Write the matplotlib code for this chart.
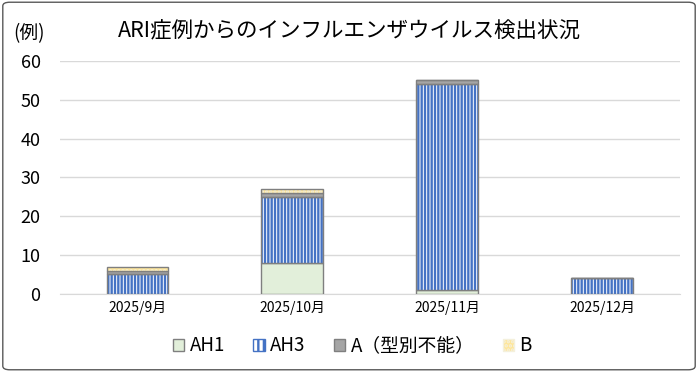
import matplotlib
matplotlib.use('Agg')
import matplotlib.pyplot as plt
from matplotlib.patches import Patch, FancyBboxPatch
import numpy as np

plt.rcParams['font.family'] = ['Noto Sans CJK JP', 'DejaVu Sans']
plt.rcParams['hatch.linewidth'] = 1.7

# data
months = ['2025/9月', '2025/10月', '2025/11月', '2025/12月']
ah1 = [0, 8, 1, 0]
ah3 = [5, 17, 53, 4]
a_untyped = [1, 1, 1, 0]
b = [1, 1, 0, 0]
yticks = [0, 10, 20, 30, 40, 50, 60]

edge = '#7f7f7f'
blue = '#4472c4'

fig = plt.figure(figsize=(6.98, 3.72), dpi=100)
ax = fig.add_axes([0.086, 0.21, 0.888, 0.626])

x = np.arange(len(months))
w = 0.4
bottom = np.zeros(len(months))

# AH1
ax.bar(x, ah1, w, bottom=bottom, color='#e2efda', edgecolor=edge, linewidth=1, zorder=3)
bottom += ah1
# AH3: white with vertical blue stripes, gray outline on top
ax.bar(x, ah3, w, bottom=bottom, color='white', edgecolor=blue, hatch='|||||', linewidth=0, zorder=3)
ax.bar(x, ah3, w, bottom=bottom, fill=False, edgecolor=edge, linewidth=1, zorder=4)
bottom += ah3
# A (untyped)
ax.bar(x, a_untyped, w, bottom=bottom, color='#a5a5a5', edgecolor=edge, linewidth=1, zorder=3)
bottom += a_untyped
# B: light yellow with dots
ax.bar(x, b, w, bottom=bottom, color='#ffe699', edgecolor='#f4f0dc', hatch='....', linewidth=0, zorder=3)
ax.bar(x, b, w, bottom=bottom, fill=False, edgecolor=edge, linewidth=1, zorder=4)

ax.set_xlim(-0.5, 3.5)
ax.set_ylim(0, 60)
ax.set_yticks(yticks)
ax.set_xticks(x)
ax.set_xticklabels(months, fontsize=10)
ax.tick_params(axis='y', labelsize=13, length=0, pad=14)
ax.tick_params(axis='x', length=0, pad=5)
ax.yaxis.grid(True, color='#d9d9d9', linewidth=1, zorder=0)
ax.set_axisbelow(True)
for s in ['top', 'right', 'left']:
    ax.spines[s].set_visible(False)
ax.spines['bottom'].set_color('#d9d9d9')

fig.text(0.5, 0.915, 'ARI症例からのインフルエンザウイルス検出状況', ha='center', va='center', fontsize=15.5)
fig.text(0.042, 0.91, '(例)', ha='center', va='center', fontsize=13.5)

handles = [
    Patch(facecolor='#e2efda', edgecolor=edge, label='AH1'),
    Patch(facecolor='white', edgecolor=blue, hatch='|||', label='AH3'),
    Patch(facecolor='#a5a5a5', edgecolor=edge, label='A（型別不能）'),
    Patch(facecolor='#ffe699', edgecolor='#f4f0dc', hatch='....', label='B'),
]
fig.legend(handles=handles, loc='center', bbox_to_anchor=(0.505, 0.07), ncol=4, frameon=False,
           fontsize=13.5, handlelength=0.6, handleheight=0.6, handletextpad=0.3, columnspacing=1.5)

border = FancyBboxPatch((0.004, 0.006), 0.992, 0.988, boxstyle='round,pad=0,rounding_size=0.01',
                        transform=fig.transFigure, fill=False, edgecolor='#595959', linewidth=1)
fig.patches.append(border)

fig.savefig('out.png', dpi=100)
